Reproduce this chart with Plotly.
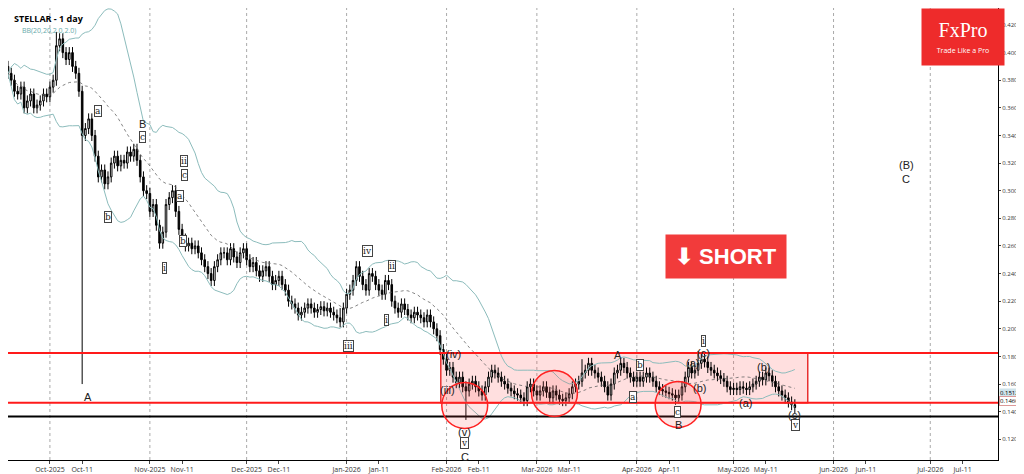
import plotly.graph_objects as go
import pandas as pd
import numpy as np

start = "2025-09-18"
closes = [
0.385,0.38,0.372,0.37,0.375,0.36,0.365,0.37,0.36,0.362,
0.365,0.37,0.368,0.375,0.38,0.405,0.41,0.40,0.395,0.40,
0.39,0.385,0.372,0.34,0.345,0.352,0.34,0.325,0.31,0.315,
0.305,0.31,0.32,0.325,0.318,0.322,0.32,0.328,0.325,0.33,
0.322,0.31,0.30,0.298,0.285,0.29,0.275,0.262,0.27,0.29,
0.295,0.30,0.285,0.272,0.265,0.26,0.262,0.258,0.26,0.255,
0.25,0.245,0.24,0.235,0.245,0.25,0.255,0.255,0.25,0.258,
0.252,0.248,0.255,0.258,0.25,0.245,0.248,0.242,0.238,0.242,
0.245,0.238,0.232,0.235,0.238,0.232,0.228,0.22,0.218,0.215,
0.21,0.212,0.215,0.218,0.215,0.212,0.214,0.216,0.213,0.215,
0.212,0.21,0.208,0.205,0.215,0.225,0.228,0.235,0.245,0.238,
0.232,0.228,0.24,0.238,0.232,0.228,0.225,0.235,0.232,0.22,
0.215,0.212,0.218,0.214,0.21,0.208,0.212,0.21,0.208,0.205,
0.21,0.205,0.20,0.195,0.185,0.178,0.17,0.172,0.165,0.161,
0.165,0.158,0.155,0.16,0.162,0.158,0.155,0.152,0.158,0.165,
0.17,0.168,0.165,0.162,0.16,0.157,0.155,0.153,0.152,0.15,
0.148,0.158,0.16,0.155,0.152,0.155,0.158,0.154,0.15,0.155,
0.152,0.149,0.148,0.15,0.153,0.158,0.16,0.162,0.168,0.17,
0.175,0.17,0.168,0.165,0.162,0.158,0.152,0.16,0.168,0.17,
0.175,0.172,0.168,0.165,0.162,0.165,0.162,0.165,0.168,0.165,
0.162,0.158,0.156,0.155,0.154,0.153,0.152,0.15,0.152,0.158,
0.165,0.172,0.168,0.17,0.175,0.178,0.176,0.172,0.17,0.168,
0.166,0.164,0.162,0.158,0.156,0.157,0.156,0.158,0.157,0.156,
0.158,0.16,0.162,0.165,0.163,0.168,0.166,0.162,0.158,0.155,
0.152,0.15,0.147,0.145,0.143]
first_open = 0.39
wick = 0.004
special_lows = {23: 0.16, 142: 0.134, 207: 0.145}
special_highs = {15: 0.415, 103: 0.215, 178: 0.178, 214: 0.184}
price_ticks = [0.12, 0.14, 0.16, 0.18, 0.20, 0.22, 0.24, 0.26, 0.28, 0.30, 0.32, 0.34, 0.36, 0.38, 0.40, 0.42]

dates = pd.date_range(start, periods=len(closes), freq="D")
opens = [first_open] + closes[:-1]
highs = [max(o, c) + wick for o, c in zip(opens, closes)]
lows = [min(o, c) - wick for o, c in zip(opens, closes)]
for k, v in special_lows.items(): lows[k] = v
for k, v in special_highs.items(): highs[k] = max(highs[k], v)

s = pd.Series(closes)
mid = s.rolling(20, min_periods=1).mean()
sd = s.rolling(20, min_periods=1).std().fillna(0)
up, dn = mid + 2 * sd, mid - 2 * sd

upper_line, lower_line, support_line = 0.1825, 0.1465, 0.1365

t0 = pd.Timestamp("2025-10-01")
def px(x, y):
    return (t0 + pd.Timedelta(days=(x - 42) / 3.234)), 0.42 - (y - 17) / 1383

fig = go.Figure()
fig.add_trace(go.Scatter(x=dates, y=up, mode="lines", line=dict(color="#8cbcbc", width=1), hoverinfo="skip"))
fig.add_trace(go.Scatter(x=dates, y=dn, mode="lines", line=dict(color="#8cbcbc", width=1), hoverinfo="skip"))
fig.add_trace(go.Scatter(x=dates, y=mid, mode="lines", line=dict(color="#666", width=0.8, dash="dot"), hoverinfo="skip"))
fig.add_trace(go.Candlestick(x=dates, open=opens, high=highs, low=lows, close=closes,
    increasing=dict(line=dict(color="#000", width=1), fillcolor="#ffffff"),
    decreasing=dict(line=dict(color="#000", width=1), fillcolor="#000000"),
    whiskerwidth=0))

shapes = []
x0, _ = px(434, 0); x1, _ = px(802, 0)
shapes.append(dict(type="rect", x0=x0, x1=x1, y0=lower_line, y1=upper_line, fillcolor="rgba(255,80,80,0.18)",
                   line=dict(color="#e83030", width=1.5), layer="below"))
for y_, c in [(upper_line, "#ff1a1a"), (lower_line, "#ff1a1a"), (support_line, "#000")]:
    shapes.append(dict(type="line", xref="paper", x0=0, x1=1, y0=y_, y1=y_, line=dict(color=c, width=2)))
for (cx, cy) in [(458, 398), (548, 386), (672, 397)]:
    a0, b0 = px(cx - 23, cy + 23); a1, b1 = px(cx + 23, cy - 23)
    shapes.append(dict(type="circle", x0=a0, x1=a1, y0=b0, y1=b1, line=dict(color="#ff2020", width=1.5),
                       fillcolor="rgba(255,80,80,0.15)"))
month_starts = pd.date_range("2025-10-01", "2026-07-01", freq="MS")
for m in month_starts:
    shapes.append(dict(type="line", x0=m, x1=m, yref="paper", y0=0, y1=1, line=dict(color="#aaa", width=1, dash="dot"), layer="below"))

labels = [("A",80,390,0),("a",90,103,1),("b",100,209,1),("B",135,116,0),("c",135,129,1),("i",157,260,1),
          ("ii",176,153,1),("c",177,167,1),("a",172,188,1),("b",175,233,1),("iv",360,243,1),("ii",385,258,1),
          ("i",380,312,1),("iii",341,338,1),("(iv)",447,346,0),("(iii)",441,383,0),("(v)",458,425,0),
          ("v",458,436,1),("C",458,450,0),("(A)",458,462,0),("A",612,347,0),("b",634,358,1),("a",627,390,1),
          ("c",671,405,1),("B",672,418,0),("i",697,333,1),("(c)",697,345,0),("(a)",686,355,0),("(b)",693,381,0),
          ("(b)",758,360,0),("(a)",740,396,0),("(c)",789,408,0),("v",790,418,1),("(B)",901,157,0),("C",901,171,0)]
ann = []
for t, x, y, circ in labels:
    ax, ay = px(x, y)
    ann.append(dict(x=ax, y=ay, text=t, showarrow=False, font=dict(size=11 if not circ else 9, color="#222", family="DejaVu Serif" if circ else "Arial"),
                    bordercolor="#444" if circ else None, borderwidth=1 if circ else 0, borderpad=0, bgcolor="white" if circ else None))
ann += [
    dict(xref="paper", yref="paper", x=0.004, y=0.995, xanchor="left", yanchor="top", text="<b>STELLAR - 1 day</b>", showarrow=False, font=dict(size=9, color="#000")),
    dict(xref="paper", yref="paper", x=0.012, y=0.965, xanchor="left", yanchor="top", text="BB(20,20,2.0,2.0)", showarrow=False, font=dict(size=7, color="#6aa")),
    dict(x=px(720, 0)[0], y=px(0, 249)[1], text="<b>⬇ SHORT</b>", showarrow=False, bgcolor="#f23b3b", font=dict(size=22, color="white", family="Arial"), borderpad=9),
    dict(xref="paper", yref="paper", x=0.965, y=1, xanchor="center", yanchor="top", text="<span style='font-size:20px;font-family:Liberation Serif'>FxPro</span><br><span style='font-size:7px'>Trade Like a Pro</span>",
         showarrow=False, bgcolor="#ee2b2b", font=dict(color="white"), borderpad=10, width=62),
    dict(xref="paper", x=1.001, y=0.1535, xanchor="left", text="0.15124", showarrow=False, bgcolor="#cfe3ea", font=dict(size=6, color="#000"), borderpad=0),
    dict(xref="paper", x=1.001, y=0.1475, xanchor="left", text="0.14608", showarrow=False, bgcolor="#ffffff", bordercolor="#d99", borderwidth=1, font=dict(size=6, color="#000"), borderpad=0),
]

tickvals, ticktext = [], []
for m in month_starts:
    tickvals += [m, m + pd.Timedelta(days=10)]
    ticktext += [m.strftime("%b-%Y"), m.strftime("%b") + "-11"]

fig.update_layout(
    width=1024, height=474, margin=dict(l=0, r=34, t=0, b=22), plot_bgcolor="white", paper_bgcolor="white",
    showlegend=False, shapes=shapes, annotations=ann,
    xaxis=dict(range=[pd.Timestamp("2025-09-18"), pd.Timestamp("2026-07-22")], rangeslider=dict(visible=False),
               tickvals=tickvals, ticktext=ticktext, tickangle=0, automargin=False, showgrid=False, ticks="outside", ticklen=3,
               tickfont=dict(size=7, color="#333"), showline=True, linecolor="#000", mirror=False),
    yaxis=dict(range=[0.105, 0.4323], side="right", tickvals=price_ticks, ticktext=[f"{v:.5f}" for v in price_ticks],
               showgrid=False, automargin=False,
               ticks="outside", ticklen=2, tickfont=dict(size=6, color="#333"), showline=True, linecolor="#000"),
)
fig.write_html("out.html")
